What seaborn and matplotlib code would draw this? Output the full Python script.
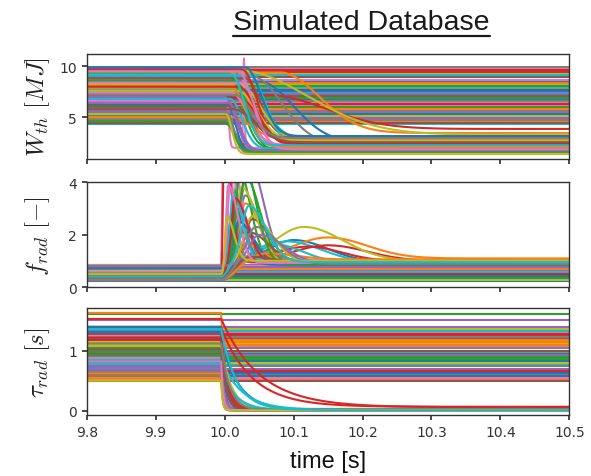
import numpy as np
import pandas as pd
import matplotlib
matplotlib.use("Agg")
import matplotlib.pyplot as plt
import seaborn as sns
from matplotlib.lines import Line2D

# ---------------- disruptive runs ----------------
# stored energy: pre-disruption level, final level, start and duration of the drop
w_pre = [8.5, 9.4, 6.0, 7.2, 9.8, 4.4, 6.6, 9.0, 9.6, 7.8,
         5.2, 8.1, 9.3, 6.9, 5.6, 8.8, 7.4, 4.9, 8.3, 9.1,
         6.3, 5.0, 8.6, 9.7, 7.0, 6.1, 9.5, 5.4, 7.6, 6.8,
         9.9, 7.9, 4.6, 8.0, 6.4, 5.8, 8.4, 7.2, 5.3, 9.2]
w_post = [2.5, 3.45, 1.5, 3.85, 2.2, 1.8, 2.0, 2.4, 3.3, 2.75,
          1.6, 2.9, 1.9, 2.1, 1.45, 3.1, 2.3, 1.7, 2.6, 2.0,
          1.55, 2.8, 1.8, 2.45, 1.65, 3.0, 2.15, 1.5, 2.7, 1.9,
          3.15, 2.05, 1.6, 2.35, 1.75, 2.55, 1.85, 2.95, 1.4, 2.25]
w_t0 = [10.05, 10.08, 10.005, 10.06, 10.01, 10.0, 10.003, 10.04, 10.02, 10.025,
        10.0, 10.015, 10.005, 10.02, 10.002, 10.03, 10.01, 10.0, 10.02, 10.035,
        10.004, 10.01, 10.015, 10.025, 10.0, 10.012, 10.02, 10.003, 10.018, 10.008,
        10.03, 10.01, 10.0, 10.02, 10.006, 10.012, 10.025, 10.015, 10.002, 10.01]
w_dur = [0.07, 0.08, 0.02, 0.12, 0.03, 0.022, 0.004, 0.06, 0.14, 0.045,
         0.018, 0.035, 0.028, 0.04, 0.015, 0.03, 0.032, 0.02, 0.045, 0.035,
         0.016, 0.04, 0.026, 0.03, 0.022, 0.038, 0.028, 0.014, 0.04, 0.024,
         0.032, 0.03, 0.018, 0.036, 0.02, 0.042, 0.028, 0.034, 0.012, 0.026]
# short energy burst on one run
spike_run, spike_time, spike_peak, spike_width = 6, 10.028, 10.77, 0.0015

# radiated fraction: before, after, ramp time, burst peak, peak time, rise and fall widths
f_pre = [0.35, 0.75, 0.45, 0.55, 0.3, 0.65, 0.5, 0.4, 0.8, 0.35,
         0.6, 0.28, 0.7, 0.42, 0.52, 0.33, 0.62, 0.47, 0.85, 0.38,
         0.57, 0.3, 0.68, 0.44, 0.78, 0.36, 0.5, 0.26, 0.64, 0.4,
         0.72, 0.32, 0.55, 0.46, 0.82, 0.37, 0.6, 0.29, 0.5, 0.41]
f_post = [0.95, 1.1, 0.9, 1.0, 0.93, 0.88, 0.97, 0.92, 1.0, 0.96,
          0.9, 1.05, 0.87, 0.99, 0.94, 0.91, 1.02, 0.89, 0.96, 0.93,
          0.86, 1.0, 0.92, 0.97, 0.9, 0.95, 1.03, 0.88, 0.94, 0.98,
          0.91, 1.06, 0.87, 0.95, 0.9, 0.99, 0.93, 0.89, 1.01, 0.96]
f_ramp = [0.02, 0.03, 0.008, 0.025, 0.01, 0.015, 0.004, 0.012, 0.02, 0.018,
          0.006, 0.014, 0.008, 0.022, 0.005, 0.02, 0.006, 0.012, 0.01, 0.025,
          0.008, 0.03, 0.01, 0.004, 0.012, 0.016, 0.006, 0.028, 0.014, 0.009,
          0.011, 0.03, 0.007, 0.01, 0.02, 0.025, 0.006, 0.018, 0.005, 0.013]
f_pk = [1.8, 1.9, 3.2, 1.6, 4.8, 2.4, 6.0, 3.5, 2.3, 1.75,
        2.8, 3.2, 4.5, 1.55, 1.9, 2.6, 5.0, 2.2, 3.8, 1.65,
        2.9, 1.8, 4.2, 5.5, 3.0, 2.1, 4.4, 1.4, 2.7, 3.6,
        2.5, 1.3, 4.9, 3.4, 2.0, 1.2, 3.9, 2.3, 2.7, 3.1]
f_tpk = [10.10, 10.15, 10.02, 10.15, 10.035, 10.015, 9.998, 10.03, 10.115, 10.09,
         10.01, 10.03, 10.02, 10.12, 10.005, 10.04, 10.01, 10.025, 10.025, 10.07,
         10.015, 10.028, 10.03, 9.999, 10.02, 10.035, 10.008, 10.045, 10.04, 10.012,
         10.02, 10.06, 10.025, 10.015, 10.05, 10.03, 10.005, 10.045, 10.003, 10.035]
f_rise = [0.05, 0.07, 0.01, 0.07, 0.015, 0.008, 0.002, 0.012, 0.06, 0.05,
          0.006, 0.012, 0.009, 0.06, 0.004, 0.015, 0.006, 0.01, 0.01, 0.04,
          0.007, 0.012, 0.012, 0.002, 0.009, 0.014, 0.005, 0.02, 0.016, 0.006,
          0.009, 0.03, 0.011, 0.007, 0.02, 0.014, 0.004, 0.018, 0.003, 0.014]
f_fall = [0.07, 0.08, 0.02, 0.08, 0.03, 0.025, 0.018, 0.028, 0.08, 0.07,
          0.02, 0.03, 0.025, 0.07, 0.015, 0.035, 0.02, 0.03, 0.03, 0.06,
          0.022, 0.03, 0.03, 0.015, 0.025, 0.04, 0.02, 0.05, 0.04, 0.02,
          0.03, 0.06, 0.028, 0.025, 0.05, 0.04, 0.02, 0.045, 0.015, 0.035]

# radiation time: before, after and decay time
tau_pre = [1.2, 1.63, 0.8, 1.53, 1.0, 0.6, 1.35, 0.9, 1.15, 0.7,
           1.3, 0.55, 1.05, 1.38, 0.75, 0.95, 1.25, 0.65, 1.1, 0.85,
           1.4, 0.52, 0.98, 1.18, 0.68, 1.28, 0.88, 0.58, 1.08, 0.78,
           1.32, 0.62, 0.92, 1.22, 0.72, 1.02, 0.82, 1.12, 0.5, 1.36]
tau_post = [0.012, 0.03, 0.006, 0.055, 0.008, 0.005, 0.004, 0.01, 0.015, 0.009,
            0.006, 0.011, 0.007, 0.065, 0.005, 0.013, 0.006, 0.008, 0.01, 0.014,
            0.005, 0.009, 0.006, 0.008, 0.007, 0.012, 0.005, 0.006, 0.011, 0.01,
            0.007, 0.008, 0.005, 0.012, 0.006, 0.009, 0.005, 0.01, 0.004, 0.011]
tau_k = [0.025, 0.006, 0.004, 0.056, 0.003, 0.005, 0.002, 0.008, 0.012, 0.02,
         0.003, 0.006, 0.004, 0.045, 0.002, 0.01, 0.005, 0.003, 0.007, 0.03,
         0.004, 0.006, 0.003, 0.008, 0.005, 0.009, 0.004, 0.002, 0.015, 0.018,
         0.006, 0.004, 0.003, 0.01, 0.005, 0.007, 0.003, 0.012, 0.002, 0.022]

# ---------------- non-disruptive runs ----------------
w_steady = [7.1, 9.7, 5.5, 8.2, 4.3, 6.7, 9.0, 5.9, 7.7, 4.8,
            8.9, 6.2, 9.9, 5.1, 7.4, 8.6, 4.5, 6.9, 9.4, 5.7,
            8.0, 6.5, 4.7, 9.2, 7.9, 5.3, 8.4, 6.0, 9.6, 7.3,
            4.4, 8.7, 6.6, 5.0, 9.1, 7.6, 5.8, 8.1, 6.3, 4.9]
f_steady = [0.5, 0.3, 0.72, 0.42, 0.6, 0.27, 0.8, 0.37, 0.55, 0.66,
            0.33, 0.48, 0.84, 0.4, 0.58, 0.25, 0.7, 0.45, 0.62, 0.35,
            0.78, 0.52, 0.29, 0.68, 0.43, 0.56, 0.31, 0.75, 0.47, 0.64,
            0.38, 0.82, 0.53, 0.26, 0.6, 0.44, 0.71, 0.34, 0.5, 0.77]
tau_steady = [0.95, 1.3, 0.6, 1.12, 0.78, 1.38, 0.52, 1.61, 0.88, 1.51,
              1.2, 0.68, 1.05, 0.56, 1.34, 0.82, 1.15, 0.64, 1.25, 0.92,
              0.5, 1.08, 0.74, 1.36, 0.98, 0.58, 1.18, 0.86, 1.28, 0.7,
              1.0, 0.54, 1.22, 0.8, 1.32, 0.62, 1.1, 0.9, 0.66, 1.4]

t_onset = 9.995          # onset of the thermal quench [s]
time_ticks = [9.8, 9.9, 10.0, 10.1, 10.2, 10.3, 10.4, 10.5]

# time base: fine resolution around the quench
t = np.unique(np.concatenate([np.linspace(9.8, 9.99, 40),
                              np.arange(9.99, 10.2, 0.0005),
                              np.linspace(10.2, 10.5, 151)]))


def energy(i):
    dt = np.clip(t - w_t0[i], 0, None)
    w = w_post[i] + (w_pre[i] - w_post[i]) * np.exp(-(dt / w_dur[i]) ** 2)
    if i == spike_run:
        w = w + (spike_peak - w_post[i]) * np.exp(-((t - spike_time) / spike_width) ** 2)
    return w


def rad_fraction(i):
    on = t >= t_onset
    dt = np.clip(t - t_onset, 0, None)
    base = np.where(on, f_post[i] + (f_pre[i] - f_post[i]) * np.exp(-(dt / f_ramp[i]) ** 2), f_pre[i])
    width = np.where(t < f_tpk[i], f_rise[i], f_fall[i])
    bump = (f_pk[i] - f_post[i]) * np.exp(-((t - f_tpk[i]) / width) ** 2) * on
    return base + bump


def rad_time(i):
    dt = np.clip(t - t_onset, 0, None)
    return tau_post[i] + (tau_pre[i] - tau_post[i]) * np.exp(-dt / tau_k[i])


# colours follow the run index; steady runs are drawn first, disruptions on top
n_runs = len(w_pre) + len(w_steady)
tab = sns.color_palette("tab10")
frames = {"W": [], "f": [], "tau": []}
palette = {}
steady_names, disrupt_names = [], []
jd = js = 0
for k in range(n_runs):
    name = f"run{k:02d}"
    palette[name] = tab[k % 10]
    if k % 20 < 5 or k % 20 >= 15:
        curves = {"W": energy(jd), "f": rad_fraction(jd), "tau": rad_time(jd)}
        disrupt_names.append(name)
        jd += 1
    else:
        curves = {"W": np.full_like(t, w_steady[js]),
                  "f": np.full_like(t, f_steady[js]),
                  "tau": np.full_like(t, tau_steady[js])}
        steady_names.append(name)
        js += 1
    for key, val in curves.items():
        frames[key].append(pd.DataFrame({"time": t, "value": val, "run": name}))

data = {key: pd.concat(v, ignore_index=True) for key, v in frames.items()}
order = steady_names + disrupt_names

sns.set_theme(style="ticks")
plt.rcParams.update({
    "mathtext.fontset": "cm",
    "axes.edgecolor": "#333333",
    "axes.linewidth": 1.0,
    "xtick.color": "#333333",
    "ytick.color": "#333333",
    "xtick.labelsize": 10,
    "ytick.labelsize": 10,
    "xtick.major.size": 3.5,
    "ytick.major.size": 3.5,
})

fig = plt.figure(figsize=(5.91, 4.77), dpi=100)
ax1 = fig.add_axes([0.1467, 0.6646, 0.8167, 0.2208])
ax2 = fig.add_axes([0.1467, 0.3956, 0.8167, 0.2201])
ax3 = fig.add_axes([0.1467, 0.1273, 0.8167, 0.2243])

panels = [(ax1, "W", r"$W_{th}\ [MJ]$", (0.9, 11.24), [5, 10]),
          (ax2, "f", r"$f_{rad}\ [-]$", (0, 4), [0, 2, 4]),
          (ax3, "tau", r"$\tau_{rad}\ [s]$", (-0.077, 1.707), [0, 1])]

for ax, key, label, ylim, yticks in panels:
    sns.lineplot(data=data[key], x="time", y="value", hue="run", hue_order=order,
                 palette=palette, estimator=None, legend=False, linewidth=1.5,
                 sort=False, ax=ax)
    ax.set_xlim(9.8, 10.5)
    ax.set_ylim(*ylim)
    ax.set_yticks(yticks)
    ax.set_xticks(time_ticks)
    ax.set_ylabel(label, fontsize=18, color="#222222")
    ax.yaxis.set_label_coords(-0.072, 0.5)
    ax.set_xlabel("")
    for s in ax.spines.values():
        s.set_visible(True)

ax1.tick_params(labelbottom=False)
ax2.tick_params(labelbottom=False)
ax3.set_xticklabels([f"{v:.1f}" for v in time_ticks])
ax3.set_xlabel("time [s]", fontsize=17, family="Liberation Sans", color="#111111")
ax3.xaxis.set_label_coords(0.5, -0.32)

title = fig.text(361.5 / 591, 1 - 30 / 477, "Simulated Database", ha="center",
                 va="baseline", fontsize=20.5, family="Liberation Sans", color="#1a1a1a")
fig.canvas.draw()
bb = title.get_window_extent(fig.canvas.get_renderer()).transformed(fig.transFigure.inverted())
y_ul = 1 - 37 / 477
fig.add_artist(Line2D([bb.x0, bb.x1], [y_ul, y_ul], color="#1a1a1a", linewidth=1.6,
                      transform=fig.transFigure))

fig.savefig("out.png", dpi=100)
